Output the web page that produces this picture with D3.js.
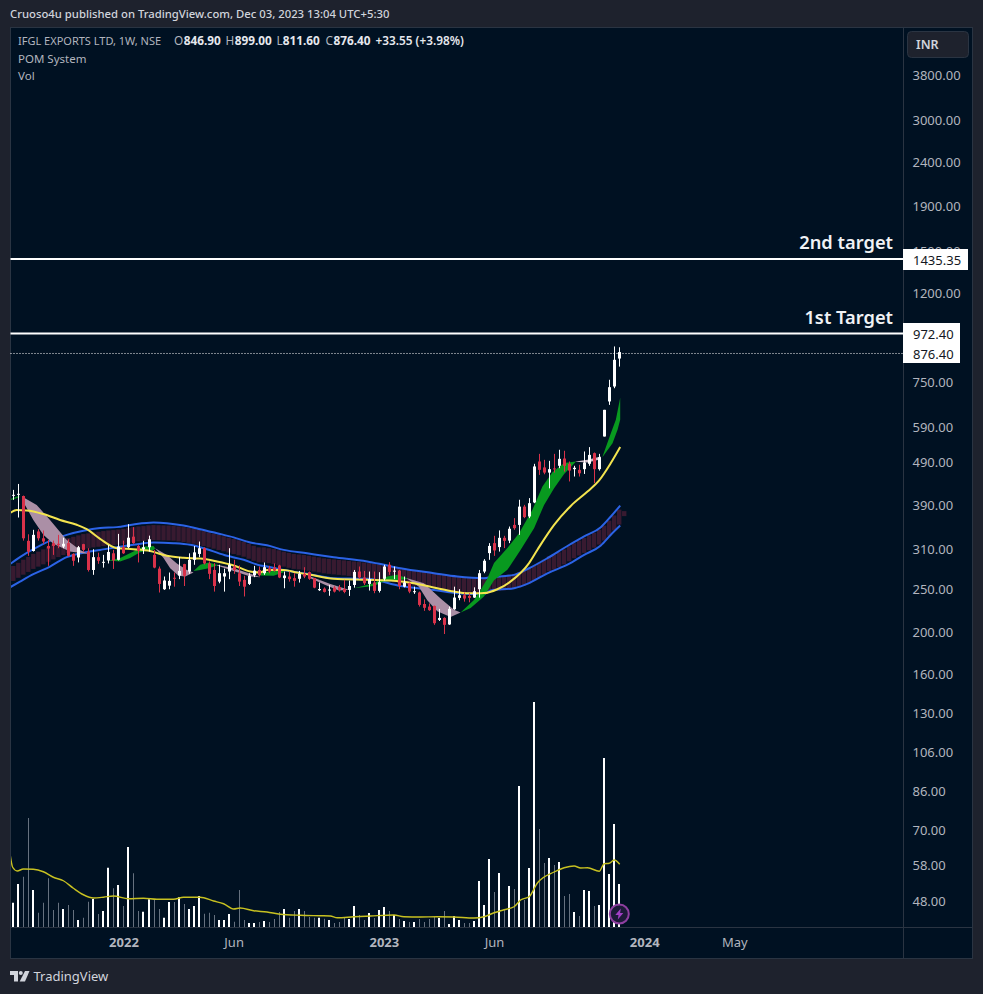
<!DOCTYPE html>
<html><head><meta charset="utf-8">
<script src="https://cdn.jsdelivr.net/npm/d3@7/dist/d3.min.js"></script>
<style>html,body{margin:0;padding:0;background:#1e222d}svg{display:block}text{font-family:"Noto Sans",sans-serif}</style>
</head><body><div id="chart"></div>
<script>
const opens=[409.5,411.6,409,322.6,305.7,339,327,314,318.7,317.6,313,318.7,301,295.4,317,304.8,276.5,295.9,287.2,290.8,302,291.8,311.9,311.9,329.8,314,308.6,311.9,299.5,278.5,249.7,254.5,265.3,268.5,285.2,274.2,291.8,301,310.3,286.2,276.5,260,267.1,274.2,281.6,271.8,262.4,256.8,269,276.5,271.8,279,280,283.2,264.8,267.1,264.8,263.9,270.9,273.3,264.8,248.4,250.5,248,251.8,252.7,250,248.8,255.4,274.2,265.7,256.8,258.7,247.5,263.9,284.2,274.6,275.5,253.1,257.7,245.8,245.4,230.9,227.8,228.6,212.2,214.5,207.2,224.6,238.5,241.9,241,238.9,249.7,274.2,302.3,318.7,312.1,327.8,323,351,351,386.7,367,395.3,491.1,475.8,463,473.3,480,498.8,485.1,471.5,469.8,471.5,485.1,513.2,471.5,560.5,674.8,730.4,846.9];
const highs=[422.5,436,410,334,342,343.2,340.8,324.2,323,333,328,325.3,302,314,317.6,310.3,308.6,303,299.5,315.9,307.5,334.7,323,352.4,346.9,315.9,322.6,331.6,307.5,281.6,267.1,272.8,272.8,295.9,285.7,302,314,321.4,311.9,289.3,286.7,284.2,278.5,310.3,291.8,283.2,268.1,271.8,282.6,281.6,287.7,282.6,286.2,284.2,274.2,274.2,271.8,275.1,280.6,274.2,265,258.7,252.2,255.4,254,255.4,262.4,261.5,276.5,281.6,275.1,274.2,274.2,273.3,284.2,288.2,281.6,276.5,267.1,258.7,253.1,246.6,236.6,231.7,229,225,215.3,227.8,253.1,249.7,245.4,244.5,252.2,276.5,292.8,318.7,331.3,340.9,331.3,348,363.8,401,390.3,404.5,485,511.3,495.4,492.8,511.3,522.5,519.7,491.1,480,482.6,517.8,529.9,515,511.3,645.5,756.9,902.9,899];
const lows=[400.8,365,323,298,304.8,323,317.6,282.6,299.5,310.3,310.3,297,282.6,287.8,304.8,274.2,269.5,285.7,280,286.2,278,290.8,301,310.3,317.6,287.8,301,304.8,279,245.4,248.8,249.7,253.1,263.4,254,270.9,284.2,295.9,284.7,263.4,246.6,257.7,246.6,263.4,270.9,254,240.3,255.4,266.2,267.1,269.5,271.8,274.2,264.8,251,260,253.1,258.7,264.8,262.4,251,247.5,245.4,241.2,245.4,246.6,244.5,241,251.8,263.9,255.4,248,244.5,245.4,261.5,269.5,263.4,249.7,252.2,244.5,243.6,227.8,222.7,222.7,206.8,211.1,197,206.8,223.9,235.6,233.8,233,238.5,238.9,271.8,291.8,297.9,304.8,310.5,318.7,342,333,363.8,363.8,393.8,457.4,459,426,463,474,465.6,441.8,453.5,453.5,459.7,480,438,468,560.5,662.7,723.8,811.6];
const closes=[411.6,413.8,327,304.8,333,327,321.4,309.8,314,315.4,317.6,298,290.3,311.9,307.5,276.5,295.9,290.3,288.7,304.2,290.8,313,302,328,318.7,305.7,311.9,325.3,280,256.8,261.5,261,263.9,275.1,268.1,291.8,303.5,310.3,286.2,270.9,254,271.8,271.8,284.2,276.5,260,253.1,268.1,275.5,269,280.6,274.2,275.5,265.7,268.5,263.4,261,270.9,267.1,263.9,251.8,250,246.2,249.3,246.6,248.8,246.2,254,273.7,265.7,257.7,263.4,247.5,259.2,281.6,273.7,275.5,254,258.7,246.6,247.1,229.8,226.3,223.5,208.6,214.5,206.8,225,238.9,241.9,237.7,238.5,247.1,271.8,290.3,314,306.6,327.8,322.6,343.9,345,386.7,365.8,393.8,478.3,469.8,463,471.5,471.5,498,480,468,475,461.3,488.6,508.5,471.5,502.2,645.5,727.8,841.2,876.4];
const volumes=[97,172,201,436,148,57,97,195,68,97,72,88,68,28,37,101,112,52,64,237,155,168,84,320,215,64,61,111,108,72,37,100,100,119,92,72,84,124,53,57,48,28,28,52,21,148,28,16,16,20,24,20,32,60,72,37,64,72,64,40,37,37,33,28,16,20,36,32,84,48,28,56,36,68,80,64,48,32,24,20,20,32,20,32,40,36,64,12,44,28,16,16,24,184,88,272,140,216,68,164,152,564,108,236,900,392,256,276,248,260,124,132,60,44,148,144,84,88,676,212,412,172];

const volMaWeeks=[-0.67,-0.13,0.8,2,4,6,8,10,12,14,16,18,20,23,26,28.67,32,34,37.3,40,42,44,45.3,48,50.67,53.3,57.3,61.3,63.3,64.7,68,71.3,76,78,81.3,84.7,88,92,94,96,98,100,101.3,103,104.7,108,110,112,113.3,114.7,117,118,119,120,121.1];
const volMa=[295,239,224,232,231,221,199,185,155,129,116,119,124,113,115,111,111,119,119,104,93,72,76,65,60,51,47,45,44,37,41,44,48,41,40,41,40,36,41,57,69,81,108,121,177,220,237,244,236,237,223,253,255,268,251];

const emaWeeks=[-0.67,0.67,2.67,6,9.33,12.67,14.67,17.33,20.67,24,27.33,30.67,34,37.33,40.67,44,47.33,49.33,50.67,54,56.67,59.33,64,70.67,76,80,84.67,88,90.67,93.33,94,96.67,99.33,103,104.67,108,111.33,114.67,117,119.33,121.2];
const ema=[373.6,379.6,378.9,371.8,360.3,351.2,343.2,326,310.3,308.6,305.7,298,294.9,293.8,289.3,283.2,274.2,272.8,276.5,276.5,272.8,269.5,263.9,262.4,261,257.7,251,246.6,244.5,244.5,244.6,249.7,260.3,286.8,307.8,351,388.1,418.8,444.2,486.9,529.9];

const upperWeeks=[-0.67,1.33,4,7.33,10.67,14,17.33,20.67,24,28,30.67,34,37.33,40.67,44,47.33,50.67,54,58.67,64,70.67,74,77.33,84,88.67,94,95.33,100,103,106.67,110.67,114,117.33,119.33,121.2];
const upperBand=[285.2,295.9,308.6,322.6,333,340.2,345.1,346.9,351.8,355.4,354.2,349.9,343.2,335.9,328.6,319.8,315,307.5,302,295.9,289.3,284.2,279,271.8,267.1,264.8,266,269.4,279,294.3,313.9,330.2,346.8,367,388.8];
const lowerWeeks=[-0.67,1.33,4,7.33,10.67,14,17.33,20.67,24,28,32,35.33,38.67,42.67,46,49.33,50.67,54,58.67,64,70.67,77.33,84,88.67,94,95.33,100,103,106.67,110.67,114,117.33,119.33,121.2];
const lowerBand=[252.2,260,270.4,281.6,295.9,303,307.5,311.9,315.9,319.8,318.7,315.9,308.6,298,291.8,283.2,281.6,276.5,270.9,264.8,263.9,254,248.8,244.5,243.2,248,251.1,257.9,271.7,284.3,299.5,314.9,333.2,349.8];

const ribbonFirstWeek=-1;
const ribbonMid=[266.7,271.4,276,280.6,284.7,289.3,292.8,296.4,300.5,304.2,308,311.3,314.6,316.8,319.2,321.4,322.6,324.2,325.3,326.5,327.6,328.2,329.2,330.4,332.2,333.4,334.7,335.3,336.5,337.1,336.8,336.5,336.2,335.9,334.7,333.4,332.2,330.4,328.6,326.5,324.2,322,319.8,317.6,315.4,313.1,310.9,308.6,305.3,302,299.5,299.5,298.2,296.9,294.9,292.8,291,289.3,288.5,287.8,286.5,285.2,284,282.6,281.8,281,280.3,279.6,278.8,278,277.3,276.5,275.5,274.6,273.3,271.8,270.6,269.5,268.3,267.1,266.2,264.8,264.1,263.4,262.4,261.5,260.3,259.2,258,256.8,255.9,255,254.5,254,253.6,255.5,257,257.5,258,258.4,259.3,260.3,262.5,265,267.8,271.7,276.2,280.7,285.8,288.3,291.8,296.3,301.2,306.1,310.5,314.9,319.3,323.6,329,336.1,345,354.7,365.8,372.6];

const cloudSegments=[
 {kind:"up",top:[[-0.67,402.6],[1.2,409.5]],bot:[[1.2,406.6],[-0.67,399.7]]},
 {kind:"down",top:[[2.33,404.4],[4.67,390.2],[7.33,360.3],[10.67,324.2],[13.33,307.5],[15,301]],bot:[[11.33,304.8],[8,317.6],[6,333],[4,360.3],[2.33,390.2]]},
 {kind:"up",top:[[19,290.8],[21.33,294.4],[24,304.8],[26,313],[28,314],[28.33,310.3]],bot:[[28,307.5],[27.33,307.5],[25.33,303.5],[23.33,294.4],[21.33,289.3]]},
 {kind:"down",top:[[28.33,310.3],[30.67,299.5],[32.67,286.2],[34.67,276.5],[36,272.8]],bot:[[34.33,267.1],[33,268.1],[31.33,279],[30,294.4]]},
 {kind:"up",top:[[36,275.1],[37.33,284.2],[39,287.8],[40.67,284.2]],bot:[[40.67,283.2],[39,279],[37.33,276.5]]},
 {kind:"down",top:[[40.67,284.2],[44,279],[47.33,270.9],[49.33,266.2]],bot:[[47.33,267.1],[44,275.1],[40.67,283.2]]},
 {kind:"up",top:[[49.33,271.8],[52,275.5],[54,275.5]],bot:[[54,273.3],[52,268.1],[49.33,268.5]]},
 {kind:"down",top:[[59.33,267.1],[63.33,256.8],[67,249]],bot:[[65,248],[62.33,255.4],[59.33,264.8]]},
 {kind:"up",top:[[68,251],[72,257.7],[74.67,267.1],[76.67,269.5],[78.67,264.8]],bot:[[78.67,263.9],[76.67,261.5],[74,260],[72,254]]},
 {kind:"down",top:[[78.67,264.8],[82,257.7],[85.33,237.7],[88,223.9],[89.33,220.8]],bot:[[87.33,215.5],[84.67,222.2],[82.67,235.6],[81,253.1],[78.67,263.9]]},
 {kind:"up",top:[[89.33,220.8],[92,236],[93.33,248.8],[94.67,264.4],[96,286.8],[98.67,310.5],[101,336],[103.67,380.1],[105.67,430.2],[107.67,463.6],[110,486.9],[112.33,491.1]],bot:[[112.33,490.3],[110,459.8],[108,426.2],[106,390.2],[104,344.9],[101.33,307.6],[98.67,276.7],[96,262],[94,240.4],[91.33,226]]},
 {kind:"fade",top:[[112.33,491],[114.67,495.4],[117.33,503.9]],bot:[[117.33,497.1],[114.67,488.6],[112.33,490.3]]},
 {kind:"up",top:[[117.67,503.9],[119.33,570.6],[120.33,612.2],[121.2,687.7]],bot:[[121.2,612.2],[120.67,580.8],[119.67,541],[117.67,503]]}
];

const priceTicks=[3800,3000,2400,1900,1500,1200,750,590,490,390,310,250,200,160,130,106,86,70,58,48];
const timeTickWeeks=[22,44,74,96,126,144];
const timeTickLabels=["2022","Jun","2023","Jun","2024","May"];
const timeTickStrong=[true,false,true,false,true,false];
const targets=[{price:1435.35,label:"2nd target",nudge:0},{price:972.4,label:"1st Target",nudge:1}];
const lastClose=876.4;
const headerText="Cruoso4u published on TradingView.com, Dec 03, 2023 13:04 UTC+5:30";
const legendRuns=[["O","846.90",174],["H","899.00",225.5],["L","811.60",276.5],["C","876.40",325.5]];

const W=983,H=994,L=10.5,R=903.5,T=27.5,B=927.5,Rt=972.5,Bt=958.5;
const svg=d3.select("#chart").append("svg").attr("width",W).attr("height",H);
svg.append("rect").attr("width",W).attr("height",H).attr("fill","#1e222d");
svg.append("rect").attr("x",L).attr("y",T).attr("width",Rt-L).attr("height",Bt-T).attr("fill","#001122").attr("stroke","#2a3442");
svg.append("line").attr("x1",R).attr("x2",R).attr("y1",T).attr("y2",Bt).attr("stroke","#2a3442");
svg.append("line").attr("x1",L).attr("x2",Rt).attr("y1",B).attr("y2",B).attr("stroke","#2a3442");

const x=d3.scaleLinear().domain([0,121]).range([13.3,619.2]);
const y=d3.scaleLog().domain([48,3800]).range([900.7,75]);
const vy=d3.scaleLinear().domain([0,900]).range([927,702]);

svg.append("defs").append("clipPath").attr("id","pane").append("rect").attr("x",L+.5).attr("y",T).attr("width",R-L-.5).attr("height",B-T);
const g=svg.append("g").attr("clip-path","url(#pane)");

// volume
const up=i=>closes[i]>=opens[i];
g.append("g").selectAll("rect").data(volumes).join("rect")
 .attr("x",(d,i)=>Math.round(x(i))-(up(i)?1:0)).attr("width",(d,i)=>up(i)?2:1)
 .attr("y",d=>vy(d)).attr("height",d=>vy(0)-vy(d))
 .attr("fill",(d,i)=>up(i)?"#ffffff":"#66717f");
const curve=d3.curveMonotoneX;
const vl=d3.line().x(d=>x(d[0])).y(d=>vy(d[1])).curve(curve);
g.append("path").attr("d",vl(volMaWeeks.map((w,i)=>[w,volMa[i]]))).attr("fill","none").attr("stroke","#c7c121").attr("stroke-width",1.4);

// ribbon
g.append("g").selectAll("rect").data(ribbonMid).join("rect")
 .attr("x",(d,i)=>x(i+ribbonFirstWeek)-2.2).attr("width",4.4)
 .attr("y",(d,i)=>y(d)-(i===ribbonMid.length-1?2.5:7.5)).attr("height",(d,i)=>i===ribbonMid.length-1?5:15)
 .attr("fill","#381a30");

// bands
const pl=d3.line().x(d=>x(d[0])).y(d=>y(d[1])).curve(curve);
[[upperWeeks,upperBand],[lowerWeeks,lowerBand]].forEach(([w,v])=>{
 g.append("path").attr("d",pl(w.map((a,i)=>[a,v[i]]))).attr("fill","none").attr("stroke","#2b63e6").attr("stroke-width",2);
});

// cloud
const cloudColor={up:"#08991f",down:"#ab8fa6",fade:"#cdbcc9"};
const ring=d3.line().x(d=>x(d[0])).y(d=>y(d[1])).curve(d3.curveLinear);
g.append("g").selectAll("path").data(cloudSegments).join("path")
 .attr("d",d=>ring(d.top.concat(d.bot))+"Z").attr("fill",d=>cloudColor[d.kind]);

// ema
g.append("path").attr("d",pl(emaWeeks.map((w,i)=>[w,ema[i]]))).attr("fill","none").attr("stroke","#f3e44f").attr("stroke-width",2);

// candles
const cg=g.append("g");
const col=i=>up(i)?"#ffffff":"#d9324a";
cg.selectAll(".w").data(opens).join("rect").attr("class","w")
 .attr("x",(d,i)=>Math.round(x(i))).attr("width",1)
 .attr("y",(d,i)=>y(highs[i])).attr("height",(d,i)=>y(lows[i])-y(highs[i])).attr("fill",(d,i)=>col(i));
cg.selectAll(".b").data(opens).join("rect").attr("class","b")
 .attr("x",(d,i)=>Math.round(x(i))-1).attr("width",3)
 .attr("y",(d,i)=>y(Math.max(d,closes[i])))
 .attr("height",(d,i)=>Math.max(1,Math.abs(y(d)-y(closes[i])))).attr("fill",(d,i)=>col(i));

// last price dotted
svg.append("line").attr("x1",L).attr("x2",R).attr("y1",y(lastClose)+1.4).attr("y2",y(lastClose)+1.4)
 .attr("stroke","#fff").attr("stroke-width",1).attr("stroke-dasharray","1 2");

// target lines
targets.forEach(t=>{
 const py=y(t.price)+t.nudge;
 svg.append("line").attr("x1",L).attr("x2",R).attr("y1",py).attr("y2",py).attr("stroke","#fff").attr("stroke-width",2);
 svg.append("text").attr("x",893).attr("y",py-9.5).attr("text-anchor","end").attr("fill","#f0f2f5")
  .attr("font-size",18.3).attr("font-weight",600).text(t.label);
});

// price axis
const ay=svg.append("g").attr("transform",`translate(${R},0.8)`)
 .call(d3.axisRight(y).tickValues(priceTicks).tickFormat(d3.format(".2f")).tickSize(0).tickPadding(9));
ay.select(".domain").remove();
ay.selectAll("text").attr("fill","#b2b5be").attr("font-size",13).attr("font-family",'"Noto Sans",sans-serif');

// time axis
const ax=svg.append("g").attr("transform",`translate(0,${B})`)
 .call(d3.axisBottom(x).tickValues(timeTickWeeks).tickFormat((d,i)=>timeTickLabels[i]).tickSize(0).tickPadding(10.5));
ax.select(".domain").remove();
ax.selectAll("text").attr("fill","#b2b5be").attr("font-size",13).attr("font-family",'"Noto Sans",sans-serif')
 .attr("font-weight",(d,i)=>timeTickStrong[i]?700:400);

// price labels
const box=(x0,y0,w,h)=>svg.append("rect").attr("x",x0).attr("y",y0).attr("width",w).attr("height",h).attr("fill","#fff");
box(903,249,65,21); box(903,323,57,40);
[[1435.35,1.6],[972.4,2.3],[876.4,2.2]].forEach(([p,n])=>{
 svg.append("text").attr("x",913).attr("y",y(p)+n).attr("dy","0.36em").attr("fill","#131722").attr("font-size",13)
  .text(d3.format(".2f")(p));
});

// INR
svg.append("rect").attr("x",907.5).attr("y",31.5).attr("width",61).attr("height",26).attr("rx",4).attr("fill","#1e222d").attr("stroke","#2a3442");
svg.append("text").attr("x",916).attr("y",49).attr("fill","#d1d4dc").attr("font-size",12.5).attr("font-weight",600).text("INR");

// header + legend
svg.append("text").attr("x",10).attr("y",18).attr("fill","#d1d4dc").attr("font-size",11.3).attr("font-weight",500).text(headerText);
const lt="#b2b5be", lv="#e6e8ee";
svg.append("text").attr("x",18).attr("y",45).attr("fill",lt).attr("font-size",11).text("IFGL EXPORTS LTD, 1W, NSE");
legendRuns.forEach(([k,v,px])=>{
 const t=svg.append("text").attr("x",px).attr("y",45).attr("font-size",11.8);
 t.append("tspan").attr("fill",lt).text(k);
 t.append("tspan").attr("fill",lv).attr("font-weight",700).attr("dx",k==="L"?0:0.5).text(v);
});
svg.append("text").attr("x",375.5).attr("y",45).attr("fill",lv).attr("font-size",11.8).attr("font-weight",600).text("+33.55 (+3.98%)");
svg.append("text").attr("x",18).attr("y",63).attr("fill",lt).attr("font-size",11.5).text("POM System");
svg.append("text").attr("x",18).attr("y",80).attr("fill",lt).attr("font-size",11.5).text("Vol");

// lightning badge
const bx=619.3,by=914;
svg.append("circle").attr("cx",bx).attr("cy",by).attr("r",9.5).attr("fill","#1c1a38").attr("stroke","#8e3fa0").attr("stroke-width",2);
svg.append("path").attr("transform",`translate(${bx},${by})`).attr("d","M1.5,-5.5L-4,1L-0.8,1L-1.5,5.5L4,-1L0.8,-1Z").attr("fill","#a13fc4");

// TradingView logo
const logo=svg.append("g").attr("transform","translate(10,971)").attr("fill","#d1d4dc");
logo.append("path").attr("d","M0,0H8V10.5H4V4H0Z");
logo.append("circle").attr("cx",10.8).attr("cy",2).attr("r",2);
logo.append("path").attr("d","M15,0H19.5L15,10.5H9.7Z");
svg.append("text").attr("x",33.5).attr("y",981).attr("fill","#d1d4dc").attr("font-size",13).text("TradingView");
</script></body></html>
